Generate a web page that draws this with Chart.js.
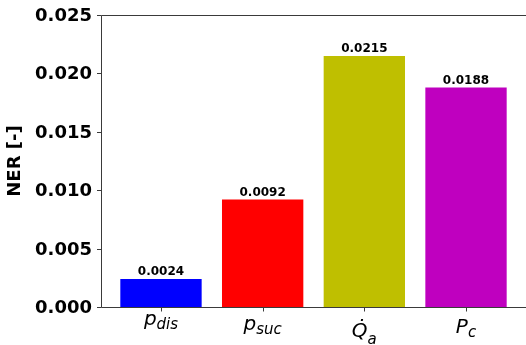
<!DOCTYPE html>
<html>
<head>
<meta charset="utf-8">
<script src="https://cdn.jsdelivr.net/npm/chart.js@4.4.0/dist/chart.umd.min.js"></script>
<style>
html,body{margin:0;padding:0;background:#fff;}
#wrap{width:526px;height:345px;}
</style>
</head>
<body>
<div id="wrap"><canvas id="c" width="526" height="345"></canvas></div>
<script>
// ---- data ----
const categories = ['p_dis', 'p_suc', 'Q\u0307_a', 'P_c'];
const labelBase = ['p', 'p', 'Q\u0307', 'P'];
const labelSub = ['dis', 'suc', 'a', 'c'];
const values = [0.0024, 0.0092, 0.0215, 0.0188];
const valueLabels = ['0.0024', '0.0092', '0.0215', '0.0188'];
const barColors = ['#0000ff', '#ff0000', '#bfbf00', '#bf00bf'];
const yTicks = [0, 0.005, 0.010, 0.015, 0.020, 0.025];
const yTickLabels = ['0.000', '0.005', '0.010', '0.015', '0.020', '0.025'];
const yTitle = 'NER [-]';

const FONT = 'DejaVu Sans, Verdana, sans-serif';
const axisColor = '#3a3a3a';

const decor = {
  id: 'decor',
  afterDatasetsDraw(chart) {
    const ctx = chart.ctx;
    const a = chart.chartArea;
    const xs = chart.scales.x, ys = chart.scales.y;
    ctx.save();
    // spines
    ctx.strokeStyle = axisColor;
    ctx.lineWidth = 1;
    ctx.beginPath();
    ctx.moveTo(101.5, a.bottom + 0.5); ctx.lineTo(101.5, a.top + 0.5);
    ctx.moveTo(101.5, a.top + 0.5); ctx.lineTo(a.right, a.top + 0.5);
    ctx.moveTo(101.5, a.bottom + 0.5); ctx.lineTo(a.right, a.bottom + 0.5);
    ctx.stroke();
    // y ticks
    ctx.fillStyle = '#000';
    ctx.font = 'bold 18px ' + FONT;
    ctx.textAlign = 'right';
    ctx.textBaseline = 'middle';
    yTicks.forEach((v, i) => {
      const y = Math.round(ys.getPixelForValue(v)) + 0.5;
      ctx.beginPath();
      ctx.moveTo(97, y); ctx.lineTo(101.5, y);
      ctx.stroke();
      ctx.fillText(yTickLabels[i], 92, y + 1);
    });
    // x ticks + labels
    categories.forEach((c, i) => {
      const x = Math.round(xs.getPixelForValue(i)) + 0.5;
      ctx.beginPath();
      ctx.moveTo(x, a.bottom + 0.5); ctx.lineTo(x, a.bottom + 4.5);
      ctx.stroke();
      const base = labelBase[i], sub = labelSub[i];
      ctx.font = 'italic 20px ' + FONT;
      const mb = ctx.measureText(base);
      ctx.font = 'italic 15px ' + FONT;
      const ms = ctx.measureText(sub);
      const total = mb.width + ms.width;
      const x0 = xs.getPixelForValue(i) - total / 2;
      const asc = mb.actualBoundingBoxAscent;
      const baseline = 319 + asc;
      const shift = base.length > 1 ? 7 : 4;
      ctx.textAlign = 'left';
      ctx.textBaseline = 'alphabetic';
      ctx.font = 'italic 20px ' + FONT;
      ctx.fillText(base, x0, baseline);
      ctx.font = 'italic 15px ' + FONT;
      ctx.fillText(sub, x0 + mb.width, baseline + shift);
    });
    // value labels
    ctx.font = 'bold 12px ' + FONT;
    ctx.textAlign = 'center';
    ctx.textBaseline = 'alphabetic';
    values.forEach((v, i) => {
      ctx.fillText(valueLabels[i], xs.getPixelForValue(i), ys.getPixelForValue(v) - 3.5);
    });
    // y title
    ctx.font = 'bold 18px ' + FONT;
    ctx.translate(15, (a.top + a.bottom) / 2);
    ctx.rotate(-Math.PI / 2);
    ctx.textAlign = 'center';
    ctx.textBaseline = 'middle';
    ctx.fillText(yTitle, 0, 0);
    ctx.restore();
  }
};

new Chart(document.getElementById('c'), {
  type: 'bar',
  data: {
    datasets: [{
      data: values.map((v, i) => ({ x: i, y: v })),
      backgroundColor: barColors,
      borderWidth: 0,
      barPercentage: 0.8,
      categoryPercentage: 1.0
    }]
  },
  options: {
    responsive: false,
    animation: false,
    devicePixelRatio: 1,
    layout: { padding: { left: 101, top: 15, right: 0, bottom: 38 } },
    plugins: { legend: { display: false }, tooltip: { enabled: false } },
    scales: {
      x: {
        type: 'linear', min: -0.59, max: 3.59, offset: false, display: false,
        afterBuildTicks: (s) => { s.ticks = categories.map((c, i) => ({ value: i })); }
      },
      y: { type: 'linear', min: 0, max: 0.025, display: false }
    }
  },
  plugins: [decor]
});
</script>
</body>
</html>
